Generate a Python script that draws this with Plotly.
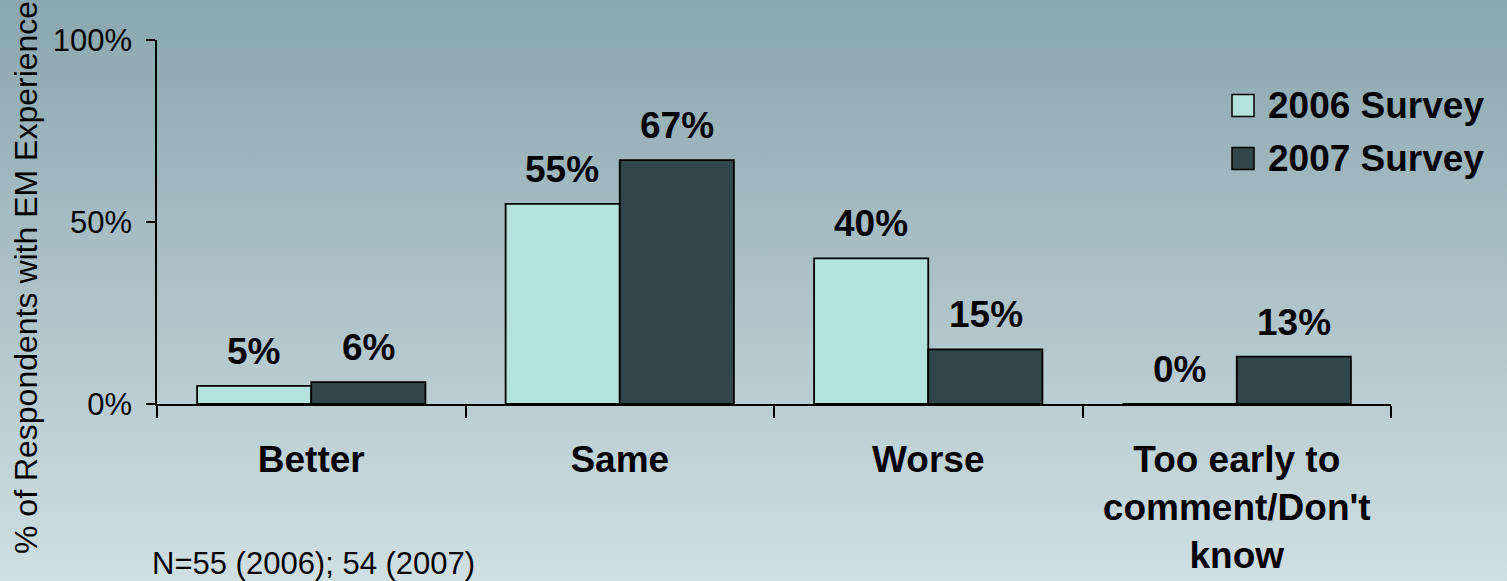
import base64
import plotly.graph_objects as go

# Survey responses: how EM experience compares
categories = ["Better", "Same", "Worse", "Too early to<br>comment/Don't<br>know"]
survey_2006 = [5, 55, 40, 0]
survey_2007 = [6, 67, 15, 13]
series_names = ["2006 Survey", "2007 Survey"]
y_ticks = [0, 50, 100]
note_text = "N=55 (2006); 54 (2007)"
y_title = "% of Respondents with EM Experience"

W, H = 1507, 581
L, R, T, B = 157, 116, 40, 177
PW, PH = W - L - R, H - T - B

LIGHT = "#b4e2dd"
DARK = "#30464a"
FONT = "Liberation Sans, Arial, sans-serif"


def px_x(x):
    return (x - L) / PW


def px_y(y):
    return (H - B - y) / PH


fig = go.Figure()
for name, vals, color in [(series_names[0], survey_2006, LIGHT),
                          (series_names[1], survey_2007, DARK)]:
    fig.add_trace(go.Bar(
        name=name, x=categories, y=vals,
        marker=dict(color=color, line=dict(color="black", width=1.8)),
        showlegend=False,
    ))

# value labels above each bar
offsets = [-57.5, 57.5]
for vals, dx in zip([survey_2006, survey_2007], offsets):
    for cat, v in zip(categories, vals):
        fig.add_annotation(
            x=cat, y=v, xref="x", yref="y", text=f"<b>{v}%</b>",
            showarrow=False, xshift=dx, yshift=12, yanchor="bottom",
            font=dict(family=FONT, size=37, color="black"),
        )

# vertical gradient backdrop
svg = (
    f'<svg xmlns="http://www.w3.org/2000/svg" width="{W}" height="{H}">'
    '<defs><linearGradient id="g" x1="0" y1="0" x2="0" y2="1">'
    '<stop offset="0" stop-color="#8aa6ae"/>'
    '<stop offset="1" stop-color="#cfdfe2"/>'
    '</linearGradient></defs>'
    f'<rect width="{W}" height="{H}" fill="url(#g)"/></svg>'
)
src = "data:image/svg+xml;base64," + base64.b64encode(svg.encode()).decode()
fig.add_layout_image(
    source=src, xref="paper", yref="paper",
    x=px_x(0), y=px_y(0), sizex=W / PW, sizey=H / PH,
    xanchor="left", yanchor="top", sizing="stretch", layer="below",
)

# legend drawn as swatches + labels
legend_rows = [(series_names[0], LIGHT, 105.5), (series_names[1], DARK, 158.5)]
for name, color, cy in legend_rows:
    fig.add_shape(
        type="rect", xref="paper", yref="paper",
        x0=px_x(1232), x1=px_x(1254), y0=px_y(cy - 11), y1=px_y(cy + 11),
        fillcolor=color, line=dict(color="black", width=1.5),
    )
    fig.add_annotation(
        x=px_x(1266), y=px_y(cy), xref="paper", yref="paper",
        text=f"<b>{name}</b>", showarrow=False, xanchor="left", yanchor="middle",
        font=dict(family=FONT, size=37, color="black"),
    )

# axis title
fig.add_annotation(
    x=px_x(26), y=px_y(278), xref="paper", yref="paper",
    text=y_title, textangle=-90, showarrow=False,
    xanchor="center", yanchor="middle",
    font=dict(family=FONT, size=32, color="black"),
)

# sample-size note
fig.add_annotation(
    x=px_x(150), y=px_y(563), xref="paper", yref="paper",
    text=note_text, showarrow=False, xanchor="left", yanchor="middle",
    font=dict(family=FONT, size=31, color="black"),
)

fig.update_layout(
    width=W, height=H,
    margin=dict(l=L, r=R, t=T, b=B, pad=0, autoexpand=False),
    paper_bgcolor="#b8cbd0", plot_bgcolor="rgba(0,0,0,0)",
    barmode="group", bargap=0.26, bargroupgap=0,
    font=dict(family=FONT, color="black"),
)
fig.update_xaxes(
    automargin=False,
    showline=True, linecolor="black", linewidth=1.5,
    ticks="outside", tickson="boundaries", ticklen=12, tickwidth=1.5,
    tickcolor="black", showgrid=False, ticklabelstandoff=22,
    tickfont=dict(family=FONT, size=37, color="black"),
    ticktext=[f"<b>{c}</b>" for c in categories], tickvals=categories,
)
fig.update_yaxes(
    automargin=False,
    range=[0, 100], tickvals=y_ticks, ticktext=[f"{t}%" for t in y_ticks],
    showline=True, linecolor="black", linewidth=1.5,
    ticks="outside", ticklen=9, tickwidth=1.5, tickcolor="black",
    showgrid=False, zeroline=False, ticklabelstandoff=8,
    tickfont=dict(family=FONT, size=31, color="black"),
)

fig.write_html("out.html")
